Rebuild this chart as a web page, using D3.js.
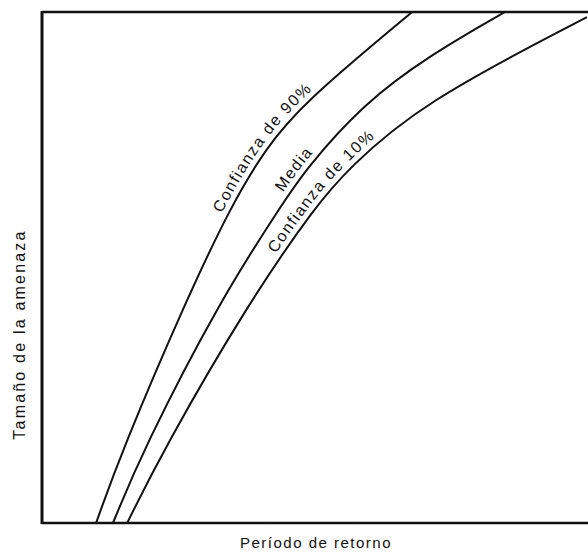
<!DOCTYPE html>
<html>
<head>
<meta charset="utf-8">
<script src="https://cdn.jsdelivr.net/npm/d3@7/dist/d3.min.js"></script>
<style>
  body { margin: 0; background: #fff; }
  text { font-family: "Liberation Sans", Arial, Helvetica, sans-serif; fill: #111; }
</style>
</head>
<body>
<svg id="chart"></svg>
<script>
// values (axes have no ticks, so 0-100 relative units)
const returnPeriod90 = [9.9, 14.7, 26.4, 34.8, 40.8, 47.6, 67.8];
const hazard90 = [0, 14.3, 43.6, 62.4, 73.0, 82.0, 100];

const returnPeriodMean = [13.0, 18.5, 32.6, 44.0, 48.2, 58.8, 71.1, 84.8];
const hazardMean = [0, 14.3, 43.6, 62.4, 69.1, 82.0, 91.6, 100];

const returnPeriod10 = [15.6, 22.2, 38.1, 50.4, 55.9, 69.2, 99.8];
const hazard10 = [0, 14.3, 43.6, 62.4, 69.1, 82.0, 99.0];

const curveNames = ['Confianza de 90%', 'Media', 'Confianza de 10%'];
const labelStartHazard = [60, 64, 52];

const xTitle = 'Período de retorno';
const yTitle = 'Tamaño de la amenaza';

const width = 588, height = 556;
const margin = {top: 12, right: 0, bottom: 33, left: 42};

const svg = d3.select('#chart')
    .attr('width', width)
    .attr('height', height);

const x = d3.scaleLinear()
    .domain([0, 100])
    .range([margin.left, width - margin.right]);

const y = d3.scaleLinear()
    .domain([0, 100])
    .range([height - margin.bottom, margin.top]);

svg.append('clipPath')
    .attr('id', 'plot-clip')
    .append('rect')
    .attr('x', x(0))
    .attr('y', y(100))
    .attr('width', x(100) - x(0))
    .attr('height', y(0) - y(100));

let series = [
    {xs: returnPeriod90, ys: hazard90},
    {xs: returnPeriodMean, ys: hazardMean},
    {xs: returnPeriod10, ys: hazard10}
];

// B-spline keeps the hand-read points from showing kinks
let line = d3.line()
    .x(d => x(d[0]))
    .y(d => y(d[1]))
    .curve(d3.curveBasis);

let curves = svg.append('g').attr('clip-path', 'url(#plot-clip)');

series.forEach(function (s, i) {
    let pts = s.xs.map((v, k) => [v, s.ys[k]]);
    let path = curves.append('path')
        .attr('id', 'curve-' + i)
        .attr('d', line(pts))
        .attr('fill', 'none')
        .attr('stroke', '#111')
        .attr('stroke-width', 2);

    // find the distance along the path where the label should start
    let node = path.node();
    let target = y(labelStartHazard[i]);
    let lo = 0, hi = node.getTotalLength();
    for (let n = 0; n < 30; n++) {
        let mid = (lo + hi) / 2;
        if (node.getPointAtLength(mid).y > target) lo = mid; else hi = mid;
    }

    svg.append('text')
        .attr('font-size', 16)
        .attr('letter-spacing', 1.4)
        .attr('dy', -6)
        .append('textPath')
        .attr('href', '#curve-' + i)
        .attr('startOffset', lo)
        .text(curveNames[i]);
});

// frame: left, top and bottom edges
let frame = svg.append('g')
    .attr('fill', 'none')
    .attr('stroke', '#111');

frame.append('line')
    .attr('x1', x(0)).attr('x2', x(0))
    .attr('y1', y(100) - 1).attr('y2', y(0) + 1)
    .attr('stroke-width', 3);

frame.append('line')
    .attr('x1', x(0)).attr('x2', x(100))
    .attr('y1', y(100)).attr('y2', y(100))
    .attr('stroke-width', 2.5);

frame.append('line')
    .attr('x1', x(0)).attr('x2', x(100))
    .attr('y1', y(0)).attr('y2', y(0))
    .attr('stroke-width', 2.5);

svg.append('text')
    .attr('x', (x(0) + x(100)) / 2 + 1)
    .attr('y', 548)
    .attr('text-anchor', 'middle')
    .attr('font-size', 15)
    .attr('letter-spacing', 1.5)
    .text(xTitle);

svg.append('text')
    .attr('transform', 'translate(25,' + ((y(0) + y(100)) / 2 + 67) + ') rotate(-90)')
    .attr('text-anchor', 'middle')
    .attr('font-size', 16)
    .attr('letter-spacing', 2.2)
    .text(yTitle);
</script>
</body>
</html>
